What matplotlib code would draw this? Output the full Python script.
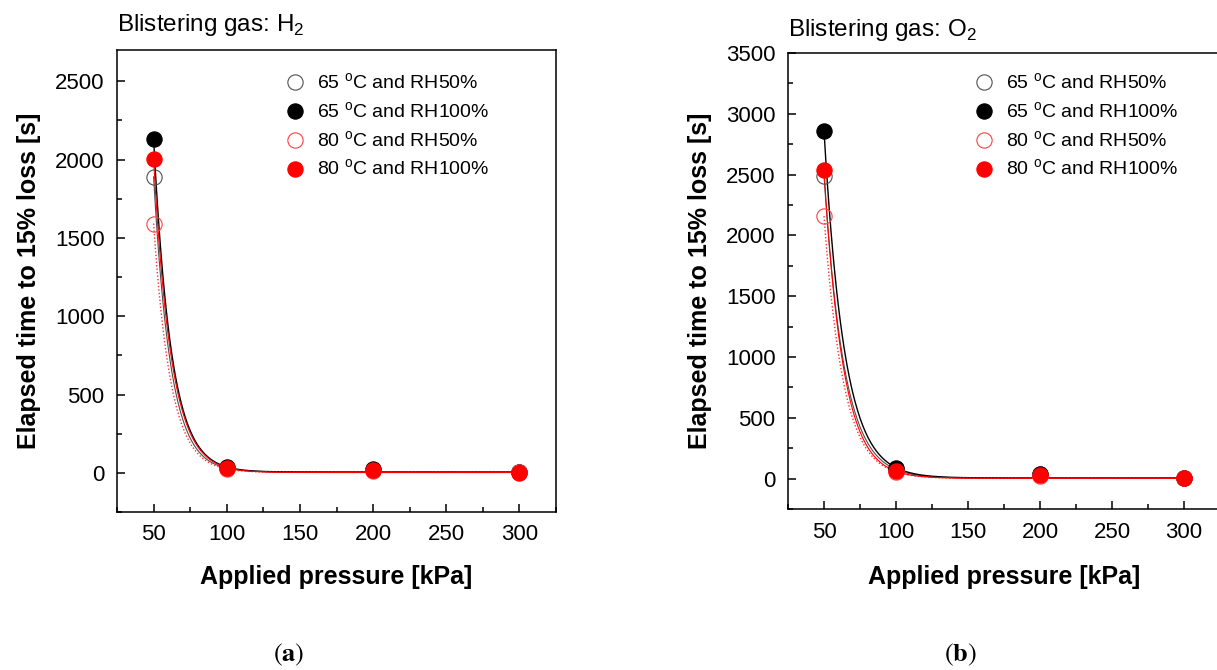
import numpy as np
import matplotlib
matplotlib.use("Agg")
import matplotlib.pyplot as plt
from matplotlib.ticker import MultipleLocator

plt.rcParams['font.family'] = ['Liberation Sans', 'DejaVu Sans']

# ---------------- data ----------------
pressure = [50, 100, 200, 300]  # kPa

series_labels = ['65 $^\\mathregular{o}$C and RH50%', '65 $^\\mathregular{o}$C and RH100%',
                 '80 $^\\mathregular{o}$C and RH50%', '80 $^\\mathregular{o}$C and RH100%']

# (a) blistering gas H2
h2_65_rh50 = [1890, 30, 20, 5]
h2_65_rh100 = [2133, 38, 25, 5]
h2_80_rh50 = [1592, 25, 12, 3]
h2_80_rh100 = [2003, 34, 15, 2]

# (b) blistering gas O2
o2_65_rh50 = [2490, 75, 35, 3]
o2_65_rh100 = [2860, 90, 40, 5]
o2_80_rh50 = [2158, 55, 25, 2]
o2_80_rh100 = [2535, 60, 30, 2]

panel_titles = ['Blistering gas: H$_\\mathregular{2}$', 'Blistering gas: O$_\\mathregular{2}$']
panel_tags = ['$(\\mathbf{a})$', '$(\\mathbf{b})$']
x_label = 'Applied pressure [kPa]'
y_label = 'Elapsed time to 15% loss [s]'

# ---------------- styles ----------------
styles = [
    dict(mfc='none', mec='#505050', mew=0.8),
    dict(mfc='black', mec='black', mew=0.8),
    dict(mfc='none', mec='#ff4040', mew=0.8),
    dict(mfc='red', mec='red', mew=0.8),
]
fit_styles = [
    dict(color='#505050', lw=0.8, ls='-'),
    dict(color='black', lw=1.0, ls='-'),
    dict(color='#ff3030', lw=1.0, ls=(0, (1, 1.5))),
    dict(color='red', lw=0.8, ls='-'),
]

W, H = 1217, 670
fig = plt.figure(figsize=(W / 100, H / 100), dpi=100)


def px_axes(l, t, r, b):
    return fig.add_axes([l / W, 1 - b / H, (r - l) / W, (b - t) / H])


def exp_fit(x, y):
    """Exponential decay through the first, second and last points."""
    x = np.asarray(x, float)
    y = np.asarray(y, float)
    y0 = y[-1]
    A = y[0] - y0
    k = np.log(A / (y[1] - y0)) / (x[1] - x[0])
    xs = np.linspace(x[0], x[-1], 400)
    return xs, y0 + A * np.exp(-k * (xs - x[0]))


panels = [
    dict(box=(117, 50, 556, 512), data=[h2_65_rh50, h2_65_rh100, h2_80_rh50, h2_80_rh100],
         ylim=(-250, 2700), yticks=np.arange(0, 2501, 500), leg=(0.378, 0.952), tag_x=289,
         title_gap=12),
    dict(box=(788, 53, 1220, 509), data=[o2_65_rh50, o2_65_rh100, o2_80_rh50, o2_80_rh100],
         ylim=(-250, 3500), yticks=np.arange(0, 3501, 500), leg=(0.427, 0.958), tag_x=960,
         title_gap=10),
]

for i, p in enumerate(panels):
    l, t, r, b = p['box']
    ax = px_axes(l, t, r, b)
    for j, ys in enumerate(p['data']):
        xs, yf = exp_fit(pressure, ys)
        ax.plot(xs, yf, zorder=2, **fit_styles[j])
    for j, ys in enumerate(p['data']):
        ax.plot(pressure, ys, 'o', ms=11, label=series_labels[j], zorder=3, ls='none', **styles[j])

    ax.set_xlim(25, 325)
    ax.set_ylim(*p['ylim'])
    ax.set_xticks([50, 100, 150, 200, 250, 300])
    ax.xaxis.set_minor_locator(MultipleLocator(25))
    ax.set_yticks(p['yticks'])
    ax.yaxis.set_minor_locator(MultipleLocator(250))
    ax.tick_params(which='both', direction='in', top=False, right=False,
                   labelsize=16, width=1.1, pad=9)
    ax.tick_params(which='major', length=6)
    ax.tick_params(which='minor', length=3.5)
    for s in ax.spines.values():
        s.set_linewidth(1.1)

    ax.set_xlabel(x_label, fontsize=18, fontweight='bold', va='center')
    ax.xaxis.set_label_coords(0.5, (b - 577) / (b - t))
    ax.set_ylabel(y_label, fontsize=18, fontweight='bold', va='center')
    ax.yaxis.set_label_coords(-88 / (r - l), 0.5)

    ax.text(0, 1 + p['title_gap'] / (b - t), panel_titles[i], transform=ax.transAxes,
            ha='left', va='bottom', fontsize=17.5)

    ax.legend(loc='upper left', bbox_to_anchor=p['leg'], frameon=False, fontsize=14,
              handlelength=1.2, handletextpad=0.55, labelspacing=0.42,
              borderpad=0, borderaxespad=0)

    fig.text(p['tag_x'] / W, 1 - 655 / H, panel_tags[i], ha='center', va='center',
             fontsize=19, math_fontfamily='stix')

fig.savefig('out.png', dpi=100)
